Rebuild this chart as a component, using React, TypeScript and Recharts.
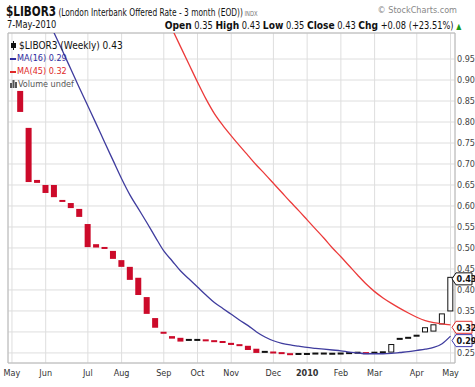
import { ComposedChart, Bar, Line, XAxis, YAxis, CartesianGrid, ReferenceDot, ReferenceArea } from "recharts";

const FONT = "'Liberation Sans Narrow', 'DejaVu Sans Condensed', 'Liberation Sans', sans-serif";

// weekly bars, May 2009 - May 2010
const opens = [0.874, 0.786, 0.662, 0.65, 0.65, 0.613, 0.607, 0.593, 0.557, 0.509, 0.502, 0.493, 0.471, 0.455, 0.429, 0.383, 0.333, 0.3, 0.29, 0.286, 0.282, 0.282, 0.281, 0.279, 0.277, 0.274, 0.269, 0.267, 0.26, 0.253, 0.252, 0.25, 0.248, 0.248, 0.248, 0.249, 0.249, 0.248, 0.249, 0.25, 0.251, 0.25, 0.251, 0.252, 0.252, 0.285, 0.287, 0.292, 0.3, 0.302, 0.319, 0.35];
const closes = [0.824, 0.657, 0.655, 0.631, 0.621, 0.611, 0.595, 0.574, 0.502, 0.501, 0.498, 0.474, 0.455, 0.424, 0.388, 0.343, 0.31, 0.296, 0.284, 0.277, 0.28, 0.28, 0.279, 0.277, 0.275, 0.269, 0.268, 0.257, 0.25, 0.252, 0.25, 0.249, 0.246, 0.247, 0.247, 0.248, 0.248, 0.248, 0.248, 0.249, 0.25, 0.249, 0.25, 0.251, 0.27, 0.282, 0.285, 0.29, 0.31, 0.317, 0.343, 0.43];
const ma16 = [1.186, 1.143, 1.1, 1.056, 1.012, 0.969, 0.925, 0.881, 0.838, 0.795, 0.751, 0.708, 0.665, 0.626, 0.593, 0.56, 0.526, 0.493, 0.469, 0.445, 0.426, 0.407, 0.388, 0.37, 0.356, 0.342, 0.328, 0.315, 0.3, 0.288, 0.279, 0.273, 0.269, 0.266, 0.263, 0.261, 0.259, 0.257, 0.255, 0.252, 0.25, 0.248, 0.248, 0.248, 0.249, 0.251, 0.253, 0.256, 0.259, 0.263, 0.272, 0.29];
const ma45 = [1.78, 1.738, 1.696, 1.654, 1.611, 1.569, 1.527, 1.485, 1.443, 1.401, 1.358, 1.316, 1.274, 1.232, 1.19, 1.148, 1.105, 1.063, 1.021, 0.979, 0.937, 0.895, 0.855, 0.82, 0.792, 0.767, 0.743, 0.72, 0.697, 0.676, 0.654, 0.632, 0.61, 0.589, 0.567, 0.545, 0.523, 0.5, 0.479, 0.457, 0.435, 0.414, 0.396, 0.381, 0.368, 0.356, 0.345, 0.335, 0.327, 0.322, 0.319, 0.317];

const tickWeeks = [-1, 3, 8, 12, 17, 21, 25, 30, 34, 38, 42, 47, 51];
const tickLabels = ["May", "Jun", "Jul", "Aug", "Sep", "Oct", "Nov", "Dec", "2010", "Feb", "Mar", "Apr", "May"];
const priceTicks = [0.25, 0.3, 0.35, 0.4, 0.45, 0.5, 0.55, 0.6, 0.65, 0.7, 0.75, 0.8, 0.85, 0.9, 0.95];

const X_MIN = -1.47;
const X_MAX = 51.53;
const Y_MIN = 0.226;
const Y_MAX = 1.012;

const data = opens.map((o, i) => ({
  w: i,
  open: o,
  close: closes[i],
  prev: i > 0 ? closes[i - 1] : Infinity,
  body: [Math.min(o, closes[i]), Math.max(o, closes[i])],
  ma16: ma16[i],
  ma45: ma45[i],
}));

const last = data[data.length - 1];
const tagValues = [last.close, last.ma45, last.ma16];

const Candle = (props: any) => {
  const { x, y, width, height, payload } = props;
  const up = payload.close > payload.open;
  const color = payload.close >= payload.prev ? "#111" : "#cc0a2a";
  const top = Math.min(y, y + height);
  const h = Math.abs(height);
  const hh = Math.max(h, 2);
  const cy = top + h / 2;
  if (up) {
    return <rect x={x + 0.5} y={cy - hh / 2} width={width - 1} height={hh} fill="#fff" stroke={color} strokeWidth={1} />;
  }
  return <rect x={x} y={cy - hh / 2} width={width} height={hh} fill={color} />;
};

const makeTag = (color: string, text: string, shift: number) => (props: any) => {
  const { cx, cy } = props;
  const c = cy + shift;
  return (
    <g>
      <polygon
        points={`${cx - 3},${c} ${cx + 1},${c - 6} ${cx + 17},${c - 6} ${cx + 17},${c + 6} ${cx + 1},${c + 6}`}
        fill="#fff"
        stroke={color}
        strokeWidth={1}
      />
      <text x={cx + 1.5} y={c + 3.5} fontSize={9} fontWeight="bold" fill="#111" fontFamily={FONT}>
        {text}
      </text>
    </g>
  );
};

const XTick = (props: any) => {
  const { x, y, payload } = props;
  const label = tickLabels[tickWeeks.indexOf(payload.value)];
  return (
    <text x={x} y={y + 11} textAnchor="middle" fontSize={9} fill="#333" fontFamily={FONT} fontWeight={label === "2010" ? "bold" : "normal"}>
      {label}
    </text>
  );
};

const YTick = (props: any) => {
  const { x, y, payload } = props;
  // labels sitting under a price tag are covered in the original
  if (tagValues.some((v) => Math.abs(v - payload.value) < 0.015)) return <g />;
  return (
    <text x={x} y={y + 3} textAnchor="start" fontSize={9} fill="#444" fontFamily={FONT}>
      {payload.value.toFixed(2)}
    </text>
  );
};

export default function App() {
  return (
    <div style={{ position: "absolute", left: 0, top: 0, width: 475, height: 387, background: "#fff", fontFamily: FONT, color: "#111" }}>
      <ComposedChart width={475} height={387} data={data} margin={{ top: 33, right: 0, left: 8, bottom: 0 }}>
        <CartesianGrid stroke="#dedede" strokeWidth={1} />
        <ReferenceArea x1={X_MIN} x2={X_MAX} y1={Y_MIN} y2={Y_MAX} fill="none" stroke="#b8b8b8" strokeWidth={1} ifOverflow="visible" />
        <XAxis
          type="number"
          dataKey="w"
          domain={[X_MIN, X_MAX]}
          ticks={tickWeeks}
          interval={0}
          height={24}
          axisLine={false}
          tickLine={false}
          tickSize={0}
          tick={<XTick />}
          allowDataOverflow
        />
        <YAxis
          orientation="right"
          domain={[Y_MIN, Y_MAX]}
          ticks={priceTicks}
          interval={0}
          width={20}
          axisLine={false}
          tickLine={false}
          tickSize={0}
          tickMargin={2}
          tick={<YTick />}
          allowDataOverflow
        />
        <Line dataKey="ma45" stroke="#ec3a3a" strokeWidth={1.3} dot={false} isAnimationActive={false} type="monotone" />
        <Line dataKey="ma16" stroke="#3f3c9e" strokeWidth={1.3} dot={false} isAnimationActive={false} type="monotone" />
        <Bar dataKey="body" barSize={6} shape={<Candle />} isAnimationActive={false} />
        <ReferenceDot x={X_MAX} y={last.close} r={0} ifOverflow="visible" shape={makeTag("#111", last.close.toFixed(2), 1.5)} />
        <ReferenceDot x={X_MAX} y={last.ma45} r={0} ifOverflow="visible" shape={makeTag("#e03030", last.ma45.toFixed(2), 2.5)} />
        <ReferenceDot x={X_MAX} y={last.ma16} r={0} ifOverflow="visible" shape={makeTag("#3f3cb0", last.ma16.toFixed(2), 4.5)} />
      </ComposedChart>

      <div style={{ position: "absolute", left: 6, top: 3, whiteSpace: "nowrap", lineHeight: "16px", transform: "scaleX(0.83)", transformOrigin: "left top" }}>
        <span style={{ fontSize: 14, fontWeight: "bold" }}>$LIBOR3</span>
        <span style={{ fontSize: 10 }}> (London Interbank Offered Rate - 3 month (EOD))</span>
        <span style={{ fontSize: 7, color: "#777" }}> INDX</span>
      </div>
      <div style={{ position: "absolute", right: 18, top: 5, whiteSpace: "nowrap", fontSize: 9, color: "#888" }}>© StockCharts.com</div>
      <div style={{ position: "absolute", left: 7, top: 19, whiteSpace: "nowrap", fontSize: 10, transform: "scaleX(0.92)", transformOrigin: "left top" }}>7-May-2010</div>
      <div style={{ position: "absolute", right: 14, top: 19, whiteSpace: "nowrap", fontSize: 10, transform: "scaleX(0.92)", transformOrigin: "right top" }}>
        <b style={{ fontSize: 11 }}>Open</b> 0.35 <b style={{ fontSize: 11 }}>High</b> 0.43 <b style={{ fontSize: 11 }}>Low</b> 0.35{" "}
        <b style={{ fontSize: 11 }}>Close</b> 0.43 <b style={{ fontSize: 11 }}>Chg</b> +0.08 (+23.51%){" "}
        <span style={{ color: "#1a9a1a", fontSize: 8 }}>▲</span>
      </div>

      <div style={{ position: "absolute", left: 10, top: 39, whiteSpace: "nowrap", fontSize: 10, lineHeight: "13px" }}>
        <div>
          <svg width={7} height={9} style={{ verticalAlign: "-1px", marginRight: 2 }}>
            <line x1={3.5} y1={0} x2={3.5} y2={9} stroke="#111" />
            <rect x={1} y={2} width={5} height={5} fill="#111" />
          </svg>
          ${"LIBOR3"} (Weekly) {last.close.toFixed(2)}
        </div>
        <div style={{ color: "#2f2ca0", fontSize: 9 }}>
          <span style={{ display: "inline-block", width: 6, height: 2, background: "#2f2ca0", verticalAlign: "middle", marginRight: 1 }} />
          MA(16) {last.ma16.toFixed(2)}
        </div>
        <div style={{ color: "#e02828", fontSize: 9 }}>
          <span style={{ display: "inline-block", width: 6, height: 2, background: "#e02828", verticalAlign: "middle", marginRight: 1 }} />
          MA(45) {last.ma45.toFixed(2)}
        </div>
        <div style={{ color: "#555", fontSize: 9 }}>
          <svg width={7} height={8} style={{ verticalAlign: "-1px", marginRight: 1 }}>
            <rect x={0} y={3} width={2} height={5} fill="#555" />
            <rect x={2.5} y={0} width={2} height={8} fill="#555" />
            <rect x={5} y={2} width={2} height={6} fill="#555" />
          </svg>
          Volume undef
        </div>
      </div>
    </div>
  );
}
